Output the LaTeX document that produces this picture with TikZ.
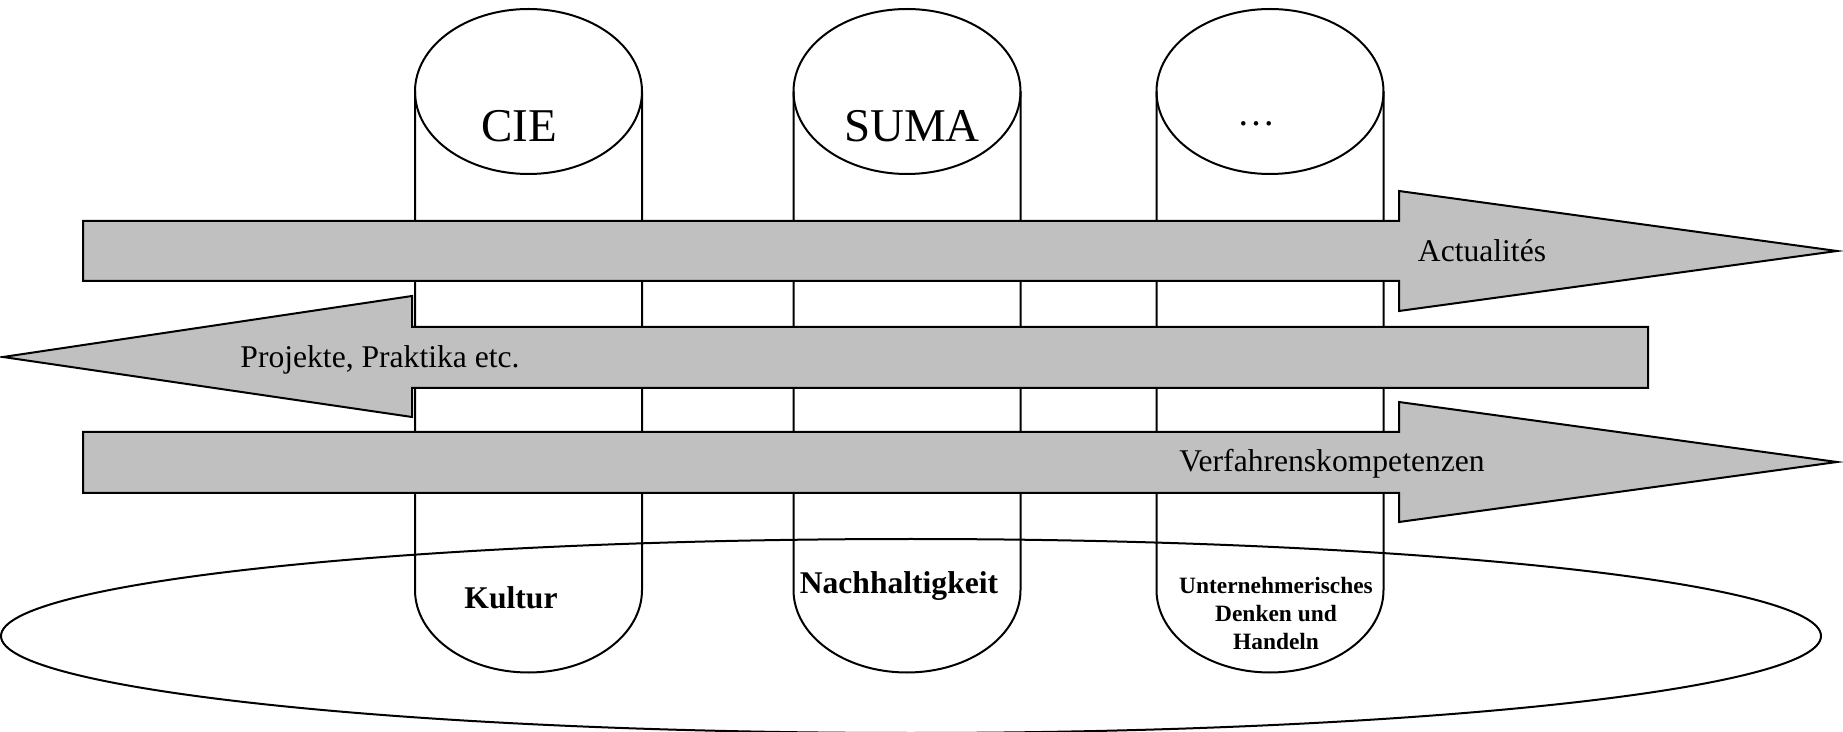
\documentclass[tikz,border=0pt]{standalone}
\usepackage{fontspec}
\setmainfont{Liberation Serif}
\definecolor{arrowgray}{HTML}{C0C0C0}
\begin{document}
\begin{tikzpicture}[x=0.5pt,y=-0.5pt,
  outline/.style={draw=black,line width=1pt},
  band/.style={outline,fill=arrowgray,line join=miter},
  lbl/.style={inner sep=0pt,anchor=base,font=\fontsize{15.8}{19}\selectfont},
  toplbl/.style={inner sep=0pt,anchor=base,font=\fontsize{23.5}{28}\selectfont},
  boldlbl/.style={inner sep=0pt,anchor=base,font=\fontsize{15.8}{19}\selectfont\bfseries},
  smallbold/.style={inner sep=0pt,align=center,font=\fontsize{11.7}{14}\selectfont\bfseries}]
\useasboundingbox (0,0) rectangle (1843,732);
% cylinders
\foreach \cx/\nm in {528.5/a,907/b,1270/c}{
  \draw[outline] (\cx,91.5) ellipse [x radius=113.5,y radius=82.5];
  \draw[outline] (\cx-113.5,91.5) -- (\cx-113.5,590)
     arc[start angle=180,end angle=0,x radius=113.5,y radius=82.5]
     -- (\cx+113.5,91.5);
}
% big ellipse
\draw[outline] (911,636) ellipse [x radius=910,y radius=97];
% arrows
\draw[band] (83,221) -- (1399,221) -- (1399,191) -- (1837,251) -- (1399,311) -- (1399,281) -- (83,281) -- cycle;
\draw[band] (1648,327) -- (412,327) -- (412,296) -- (3,357) -- (412,417) -- (412,388) -- (1648,388) -- cycle;
\draw[band] (83,432) -- (1399,432) -- (1399,402) -- (1837,462) -- (1399,522) -- (1399,493) -- (83,493) -- cycle;
% texts
\node[toplbl] (cie) at (519,142) {CIE};
\node[toplbl] (suma) at (912,142) {SUMA};
\node[inner sep=0pt,anchor=base,font=\fontsize{19}{22}\selectfont] (dots) at (1256,126) {…};
\node[lbl] (act) at (1482,262) {Actualités};
\node[lbl] (proj) at (380,368) {Projekte, Praktika etc.};
\node[lbl] (verf) at (1332,472) {Verfahrenskompetenzen};
\node[boldlbl] (kultur) at (511,609) {Kultur};
\node[boldlbl] (nach) at (899,594) {Nachhaltigkeit};
\node[smallbold,anchor=center] (unt) at (1276,613) {Unternehmerisches\\Denken und\\Handeln};
\end{tikzpicture}
\end{document}
